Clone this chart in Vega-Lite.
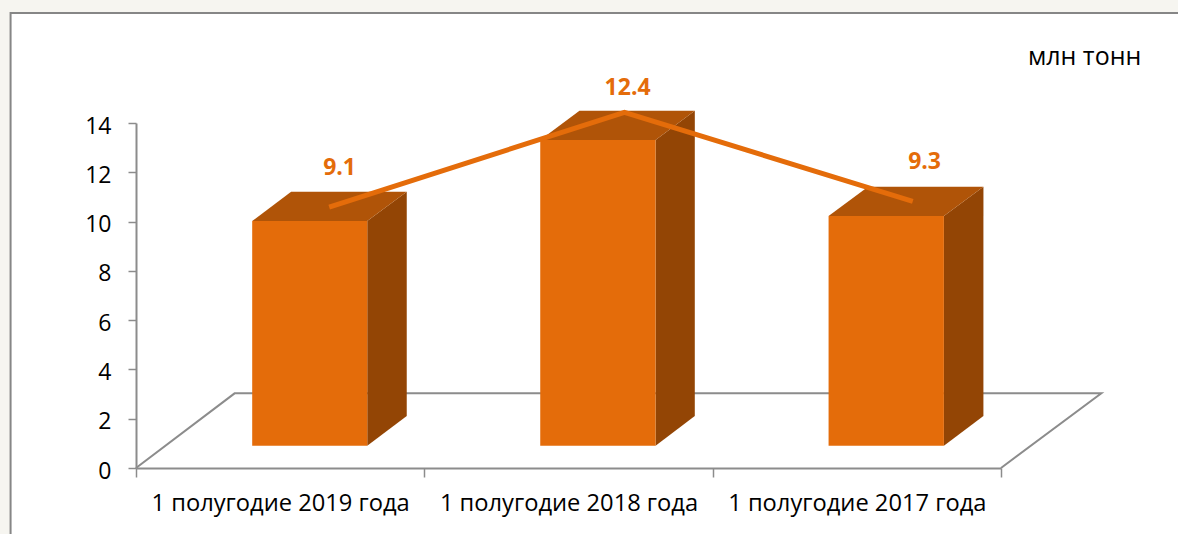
{
"$schema":"https://vega.github.io/schema/vega-lite/v6.json",
"width":865,"height":345,
"autosize":{"type":"none"},
"padding":{"left":136,"top":123,"right":177,"bottom":66},
"background":"#F6F5F0",
"config":{"view":{"stroke":null},"font":"Open Sans"},
"datasets":{
"frame":[{"x":-0.435,"x2":3.7,"y":18.46,"y2":-3.2}],
"floor":[{"x":0,"y":0,"o":1},{"x":0.342,"y":3.03,"o":2},{"x":3.348,"y":3.03,"o":3},{"x":3,"y":0,"o":4}],
"front":[
{"bar":"2019","x":0.403,"x2":0.802,"y":10.02,"y2":0.905},
{"bar":"2018","x":1.402,"x2":1.802,"y":13.31,"y2":0.905},
{"bar":"2017","x":2.402,"x2":2.802,"y":10.23,"y2":0.905}],
"faces":[
{"bar":"2019","face":"side","x":0.802,"y":10.02,"y2":0.905},
{"bar":"2019","face":"side","x":0.939,"y":11.21,"y2":2.11},
{"bar":"2018","face":"side","x":1.802,"y":13.31,"y2":0.905},
{"bar":"2018","face":"side","x":1.938,"y":14.5,"y2":2.11},
{"bar":"2017","face":"side","x":2.802,"y":10.23,"y2":0.905},
{"bar":"2017","face":"side","x":2.939,"y":11.41,"y2":2.11},
{"bar":"2019","face":"top","x":0.403,"y":10.02,"y2":10.02},
{"bar":"2019","face":"top","x":0.538,"y":11.21,"y2":10.02},
{"bar":"2019","face":"top","x":0.802,"y":11.21,"y2":10.02},
{"bar":"2019","face":"top","x":0.939,"y":11.21,"y2":11.21},
{"bar":"2018","face":"top","x":1.402,"y":13.31,"y2":13.31},
{"bar":"2018","face":"top","x":1.538,"y":14.5,"y2":13.31},
{"bar":"2018","face":"top","x":1.802,"y":14.5,"y2":13.31},
{"bar":"2018","face":"top","x":1.938,"y":14.5,"y2":14.5},
{"bar":"2017","face":"top","x":2.402,"y":10.23,"y2":10.23},
{"bar":"2017","face":"top","x":2.539,"y":11.41,"y2":10.23},
{"bar":"2017","face":"top","x":2.802,"y":11.41,"y2":10.23},
{"bar":"2017","face":"top","x":2.939,"y":11.41,"y2":11.41}],
"series":[
{"x":0.67,"y":10.59,"lx":0.706,"ly":11.89,"value":9.1},
{"x":1.694,"y":14.43,"lx":1.705,"ly":15.14,"value":12.4},
{"x":2.694,"y":10.82,"lx":2.735,"ly":12.13,"value":9.3}],
"unit":[{"x":3.29,"y":16.35,"t":"млн тонн"}],
"cats":[
{"period":"1 полугодие 2019 года","value":9.1},
{"period":"1 полугодие 2018 года","value":12.4},
{"period":"1 полугодие 2017 года","value":9.3}]
},
"data":{"name":"cats"},
"resolve":{"scale":{"x":"independent"},"axis":{"x":"independent"}},
"layer":[
{"layer":[
{"data":{"name":"frame"},"mark":{"type":"rect","fill":"#ffffff","stroke":"#868686","strokeWidth":2},
 "encoding":{"x":{"field":"x","type":"quantitative","scale":{"domain":[0,3],"nice":false,"zero":false},"axis":null},"x2":{"field":"x2"},
 "y":{"field":"y","type":"quantitative","stack":null,"scale":{"domain":[0,14],"nice":false},
   "axis":{"zindex":1,"values":[0,2,4,6,8,10,12,14],"title":null,"grid":false,"domainColor":"#8c8c8c","domainWidth":2,"tickColor":"#8c8c8c","tickWidth":1.5,"tickSize":8,"labelFontSize":23,"labelColor":"#000000","labelPadding":17,"labelOffset":3,"labelFont":"Open Sans"}},"y2":{"field":"y2"}}},
{"data":{"name":"floor"},"mark":{"type":"line","stroke":"#8c8c8c","strokeWidth":2},
 "encoding":{"x":{"field":"x","type":"quantitative"},"y":{"field":"y","type":"quantitative"},"order":{"field":"o"}}},
{"data":{"name":"faces"},"mark":{"type":"area","orient":"vertical"},
 "encoding":{"x":{"field":"x","type":"quantitative"},"y":{"field":"y","type":"quantitative","stack":null},"y2":{"field":"y2"},"detail":{"field":"bar"},
 "color":{"field":"face","type":"nominal","legend":null,"scale":{"domain":["side","top"],"range":["#934505","#B05408"]}}}},
{"data":{"name":"front"},"mark":{"type":"rect","fill":"#E46C0A"},
 "encoding":{"x":{"field":"x","type":"quantitative"},"x2":{"field":"x2"},"y":{"field":"y","type":"quantitative","stack":null},"y2":{"field":"y2"}}},
{"data":{"name":"series"},"mark":{"type":"line","stroke":"#E46C0A","strokeWidth":5},
 "encoding":{"x":{"field":"x","type":"quantitative"},"y":{"field":"y","type":"quantitative"}}},
{"data":{"name":"series"},"mark":{"type":"text","color":"#E46C0A","fontWeight":"bold","fontSize":23,"align":"center","baseline":"alphabetic"},
 "encoding":{"x":{"field":"lx","type":"quantitative"},"y":{"field":"ly","type":"quantitative"},"text":{"field":"value","type":"quantitative","format":".1f"}}},
{"data":{"name":"unit"},"mark":{"type":"text","color":"#000000","fontSize":25,"align":"center","baseline":"alphabetic"},
 "encoding":{"x":{"field":"x","type":"quantitative"},"y":{"field":"y","type":"quantitative"},"text":{"field":"t"}}}
]},
{"mark":{"type":"bar","opacity":0},
 "encoding":{"x":{"field":"period","type":"nominal","sort":null,"scale":{"paddingInner":0,"paddingOuter":0},
   "axis":{"zindex":1,"orient":"bottom","title":null,"labelAngle":0,"tickBand":"extent","domainColor":"#8c8c8c","domainWidth":2,"tickColor":"#8c8c8c","tickWidth":1.5,"tickSize":9,"labelFontSize":23.7,"labelColor":"#000000","labelPadding":14,"labelFont":"Open Sans","labelLimit":300,"grid":false}},
 "y":{"field":"value","type":"quantitative"}}}
]
}
